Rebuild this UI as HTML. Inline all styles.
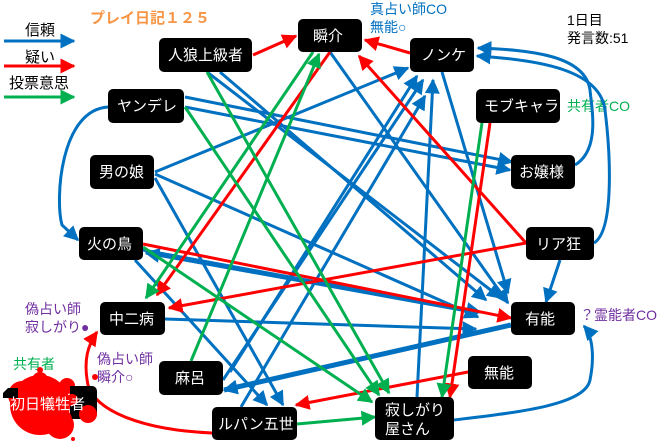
<!DOCTYPE html>
<html><head><meta charset="utf-8"><style>
body{margin:0;background:#fff;width:660px;height:443px;overflow:hidden}
svg{display:block}
text{font-family:"Liberation Sans","Noto Sans CJK JP",sans-serif}
.n{fill:#000}
.t{fill:#fff;font-size:15px}
.b{stroke:#0070c0;stroke-width:3;fill:none}
.r{stroke:#ff0000;stroke-width:3;fill:none}
.g{stroke:#00b050;stroke-width:3;fill:none}
</style></head><body>
<svg width="660" height="443" viewBox="0 0 660 443" xmlns="http://www.w3.org/2000/svg">
<defs>
<marker id="mb" markerWidth="5" markerHeight="5" refX="4.5" refY="2.5" orient="auto" markerUnits="strokeWidth"><path d="M0,0L5,2.5L0,5z" fill="#0070c0"/></marker>
<marker id="mr" markerWidth="5" markerHeight="5" refX="4.5" refY="2.5" orient="auto" markerUnits="strokeWidth"><path d="M0,0L5,2.5L0,5z" fill="#ff0000"/></marker>
<marker id="mg" markerWidth="5" markerHeight="5" refX="4.5" refY="2.5" orient="auto" markerUnits="strokeWidth"><path d="M0,0L5,2.5L0,5z" fill="#00b050"/></marker>
<marker id="mbt" markerWidth="3" markerHeight="3" refX="2.7" refY="1.5" orient="auto" markerUnits="strokeWidth"><path d="M0,0L3,1.5L0,3z" fill="#0070c0"/></marker>
</defs>
<!-- legend -->
<text x="25" y="35" font-size="15">信頼</text>
<line x1="4" y1="41" x2="74" y2="41" class="b" marker-end="url(#mb)"/>
<text x="25" y="62" font-size="15">疑い</text>
<line x1="4" y1="66" x2="74" y2="66" class="r" marker-end="url(#mr)"/>
<text x="9" y="88" font-size="15">投票意思</text>
<line x1="4" y1="97" x2="74" y2="97" class="g" marker-end="url(#mg)"/>
<text x="90" y="23" font-size="15" font-weight="bold" fill="#f79646">プレイ日記１２５</text>
<text x="567" y="25" font-size="14">1日目</text>
<text x="567" y="43" font-size="14">発言数:51</text>
<text x="370" y="14" font-size="14" fill="#0070c0">真占い師CO</text>
<text x="370" y="32" font-size="14" fill="#0070c0">無能○</text>
<text x="567" y="111" font-size="14" fill="#00b050">共有者CO</text>
<text x="580" y="320" font-size="14" fill="#7030a0">？霊能者CO</text>
<text x="25" y="314" font-size="14" fill="#7030a0">偽占い師</text>
<text x="25" y="332" font-size="14" fill="#7030a0">寂しがり●</text>
<text x="97" y="364" font-size="14" fill="#7030a0">偽占い師</text>
<text x="97" y="382" font-size="14" fill="#7030a0">瞬介○</text>
<text x="13" y="369" font-size="14" fill="#00b050">共有者</text>

<!-- blue edges -->
<path class="b" d="M108,107 C60,110 55,200 62,225 L78,240" marker-end="url(#mb)"/>
<line class="b" x1="185" y1="97" x2="512" y2="162" marker-end="url(#mb)"/>
<line class="b" x1="185" y1="107" x2="510" y2="170" marker-end="url(#mb)"/>
<path class="b" d="M575,165 C600,150 592,110 590,90 C585,55 530,50 478,48" marker-end="url(#mb)"/>
<path class="b" d="M594,243 C615,230 610,150 605,110 C600,70 540,60 477,56" marker-end="url(#mb)"/>
<line class="b" x1="155" y1="172" x2="408" y2="68" marker-end="url(#mb)"/>
<line class="b" x1="155" y1="174" x2="478" y2="317" marker-end="url(#mb)"/>
<line class="b" x1="155" y1="178" x2="283" y2="405" marker-end="url(#mb)"/>
<line class="b" x1="207" y1="72" x2="501" y2="298" marker-end="url(#mb)"/>
<line class="b" x1="220" y1="72" x2="486" y2="300" marker-end="url(#mb)"/>
<line class="b" x1="330" y1="52" x2="508" y2="303" marker-end="url(#mb)"/>
<line class="b" x1="442" y1="72" x2="508" y2="293" marker-end="url(#mb)"/>
<line class="b" x1="560" y1="260" x2="546" y2="302" marker-end="url(#mb)"/>
<line x1="511" y1="325" x2="224" y2="390" stroke="#0070c0" stroke-width="5" marker-end="url(#mbt)"/>
<line class="b" x1="135" y1="260" x2="267" y2="405" marker-end="url(#mb)"/>
<line class="b" x1="478" y1="313" x2="146" y2="253" marker-end="url(#mb)"/>
<line class="b" x1="143" y1="250" x2="480" y2="312" marker-end="url(#mb)"/>
<line class="b" x1="165" y1="319" x2="476" y2="329" marker-end="url(#mb)"/>
<line class="b" x1="223" y1="380" x2="423" y2="80" marker-end="url(#mb)"/>
<line class="b" x1="241" y1="407" x2="425" y2="96" marker-end="url(#mb)"/>
<line class="b" x1="230" y1="372" x2="417" y2="76" marker-end="url(#mb)"/>
<line class="b" x1="417" y1="397" x2="433" y2="80" marker-end="url(#mb)"/>
<path class="b" d="M454,420 C520,412 585,405 590,380 C595,355 592,335 584,326" marker-end="url(#mb)"/>

<!-- red edges -->
<line class="r" x1="253" y1="55" x2="296" y2="36" marker-end="url(#mr)"/>
<line class="r" x1="410" y1="53" x2="365" y2="40" marker-end="url(#mr)"/>
<line class="r" x1="526" y1="243" x2="359" y2="56" marker-end="url(#mr)"/>
<line class="r" x1="330" y1="52" x2="157" y2="295" marker-end="url(#mr)"/>
<line class="r" x1="526" y1="243" x2="169" y2="308" marker-end="url(#mr)"/>
<line class="r" x1="143" y1="244" x2="511" y2="318" marker-end="url(#mr)"/>
<line class="r" x1="468" y1="372" x2="296" y2="405" marker-end="url(#mr)"/>
<line class="r" x1="490" y1="123" x2="450" y2="397" marker-end="url(#mr)"/>
<path class="r" d="M212,433 C140,430 95,410 88,385 C83,360 88,345 97,332" marker-end="url(#mr)"/>

<!-- green edges -->
<line class="g" x1="313" y1="52" x2="146" y2="298" marker-end="url(#mg)"/>
<line class="g" x1="191" y1="361" x2="319" y2="54" marker-end="url(#mg)"/>
<line class="g" x1="207" y1="72" x2="389" y2="393" marker-end="url(#mg)"/>
<line class="g" x1="185" y1="107" x2="379" y2="395" marker-end="url(#mg)"/>
<line class="g" x1="143" y1="247" x2="372" y2="402" marker-end="url(#mg)"/>
<line class="g" x1="297" y1="424" x2="375" y2="417" marker-end="url(#mg)"/>
<line class="g" x1="482" y1="123" x2="442" y2="397" marker-end="url(#mg)"/>

<!-- splat -->
<g fill="#ff0000">
<circle cx="40" cy="405" r="30"/><circle cx="22" cy="395" r="14"/><circle cx="60" cy="425" r="14"/>
<circle cx="40" cy="380" r="8"/><circle cx="67" cy="386" r="8"/>
<circle cx="68" cy="402" r="3"/><circle cx="40" cy="370" r="3"/>
<circle cx="95" cy="377" r="3"/><circle cx="73" cy="439" r="2"/>
</g>
<path d="M70,386 h22 a5,5 0 0 1 5,5 v23 a5,5 0 0 1 -5,5 h-22z" fill="#000"/>
<path d="M8,388 h10 v10 h-15 v-5z" fill="#000"/>
<g fill="#ff0000"><circle cx="88" cy="414" r="9"/><circle cx="60" cy="420" r="12"/><circle cx="72" cy="400" r="6"/></g>
<text x="10" y="409" class="t">初日犠牲者</text>

<rect class="n" x="298" y="19" width="64" height="33" rx="5"/><text x="313" y="41" class="t">瞬介</text>
<rect class="n" x="159" y="38" width="93" height="34" rx="5"/><text x="168" y="60" class="t">人狼上級者</text>
<rect class="n" x="410" y="38" width="64" height="34" rx="5"/><text x="421" y="60" class="t">ノンケ</text>
<rect class="n" x="108" y="89" width="76" height="34" rx="5"/><text x="117" y="111" class="t">ヤンデレ</text>
<rect class="n" x="476" y="89" width="84" height="34" rx="5"/><text x="484" y="111" class="t">モブキャラ</text>
<rect class="n" x="90" y="155" width="64" height="34" rx="5"/><text x="99" y="177" class="t">男の娘</text>
<rect class="n" x="511" y="155" width="64" height="34" rx="5"/><text x="519" y="177" class="t">お嬢様</text>
<rect class="n" x="79" y="227" width="64" height="33" rx="5"/><text x="87" y="249" class="t">火の鳥</text>
<rect class="n" x="526" y="227" width="68" height="33" rx="5"/><text x="536" y="249" class="t">リア狂</text>
<rect class="n" x="100" y="302" width="65" height="33" rx="5"/><text x="109" y="324" class="t">中二病</text>
<rect class="n" x="511" y="302" width="64" height="33" rx="5"/><text x="525" y="324" class="t">有能</text>
<rect class="n" x="159" y="361" width="64" height="34" rx="5"/><text x="175" y="383" class="t">麻呂</text>
<rect class="n" x="468" y="356" width="64" height="33" rx="5"/><text x="484" y="378" class="t">無能</text>
<rect class="n" x="212" y="407" width="85" height="33" rx="5"/><text x="218" y="429" class="t">ルパン五世</text>
<rect class="n" x="375" y="397" width="79" height="43" rx="5"/><text x="385" y="415" class="t">寂しがり</text><text x="385" y="434" class="t">屋さん</text>
</svg>
</body></html>
